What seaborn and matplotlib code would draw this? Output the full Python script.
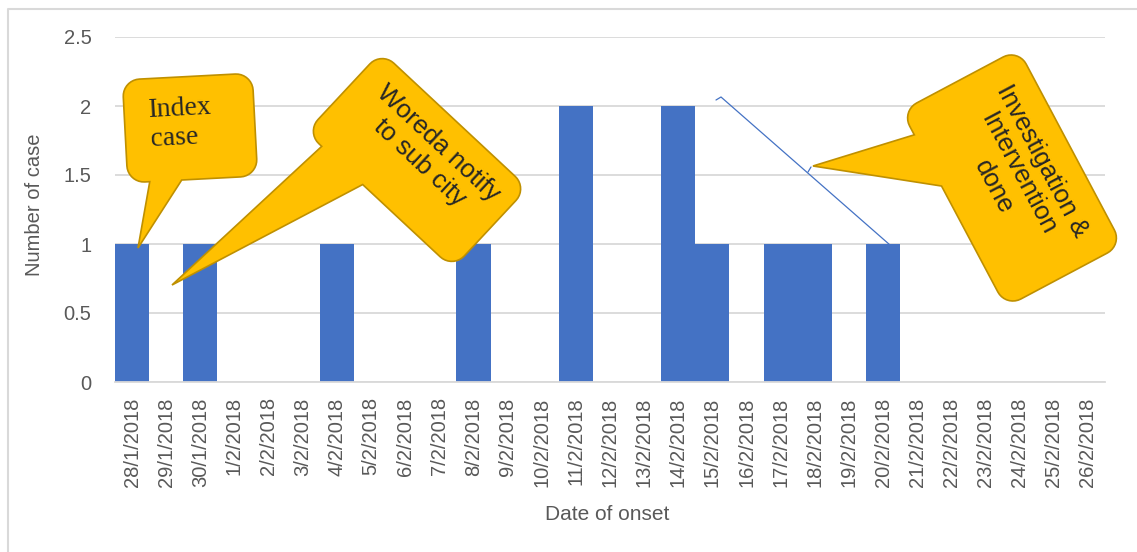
import numpy as np
import seaborn as sns
import matplotlib.pyplot as plt
from matplotlib.patches import Polygon
from matplotlib.lines import Line2D

dates = ['28/1/2018', '29/1/2018', '30/1/2018', '1/2/2018', '2/2/2018', '3/2/2018',
         '4/2/2018', '5/2/2018', '6/2/2018', '7/2/2018', '8/2/2018', '9/2/2018',
         '10/2/2018', '11/2/2018', '12/2/2018', '13/2/2018', '14/2/2018', '15/2/2018',
         '16/2/2018', '17/2/2018', '18/2/2018', '19/2/2018', '20/2/2018', '21/2/2018',
         '22/2/2018', '23/2/2018', '24/2/2018', '25/2/2018', '26/2/2018']
cases = [1, 0, 1, 0, 0, 0, 1, 0, 0, 0, 1, 0, 0, 2, 0, 0, 2, 1, 0, 1, 1, 0, 1,
         0, 0, 0, 0, 0, 0]
y_ticks = [0, 0.5, 1, 1.5, 2, 2.5]
y_tick_labels = ['0', '0.5', '1', '1.5', '2', '2.5']

W, H = 1137, 552
GREY = '#595959'
sns.set_style('white')
plt.rcParams['font.family'] = ['Liberation Sans', 'DejaVu Sans']

fig = plt.figure(figsize=(W / 100, H / 100), dpi=100)
ax = fig.add_axes([115 / W, 1 - 382 / H, 990 / W, 345 / H])

sns.barplot(x=dates, y=cases, color='#4472C4', width=1, saturation=1,
            linewidth=0, ax=ax)

ax.set_xlim(-0.5, len(dates) - 0.5)
ax.set_ylim(0, 2.5)
ax.set_yticks(y_ticks)
ax.set_yticklabels(y_tick_labels)
ax.yaxis.grid(True, color='#D9D9D9', lw=1.3)
ax.set_axisbelow(True)
for s in ['left', 'right', 'top']:
    ax.spines[s].set_visible(False)
ax.spines['bottom'].set_color('#D9D9D9')
ax.spines['bottom'].set_linewidth(1.3)
ax.tick_params(axis='both', length=0, labelcolor=GREY, labelsize=14.5)
ax.tick_params(axis='y', pad=17)
ax.tick_params(axis='x', pad=11, rotation=90)

ax.set_xlabel('Date of onset', fontsize=15, color=GREY)
ax.set_ylabel('Number of case', fontsize=14.5, color=GREY)
ax.xaxis.set_label_coords(0.497, -0.357)
ax.yaxis.set_label_coords(-0.0717, 0.513)


def fpt(x, y):
    return x / W, 1 - y / H


def callout(cx, cy, w, h, ang, tail, tip, r=17):
    a = np.deg2rad(ang)
    c, s = np.cos(a), np.sin(a)
    # tip into local coords
    dx, dy = tip[0] - cx, tip[1] - cy
    tl = (dx * c + dy * s, -dx * s + dy * c)
    pts = []

    def arc(ax_, ay_, t0, t1):
        for t in np.linspace(np.deg2rad(t0), np.deg2rad(t1), 10):
            pts.append((ax_ + r * np.cos(t), ay_ + r * np.sin(t)))

    arc(-w / 2 + r, -h / 2 + r, 180, 270)
    arc(w / 2 - r, -h / 2 + r, 270, 360)
    arc(w / 2 - r, h / 2 - r, 0, 90)
    pts += [(tail[1], h / 2), tl, (tail[0], h / 2)]
    arc(-w / 2 + r, h / 2 - r, 90, 180)
    out = [fpt(cx + x * c - y * s, cy + x * s + y * c) for x, y in pts]
    fig.add_artist(Polygon(out, closed=True, transform=fig.transFigure,
                           facecolor='#FFC000', edgecolor='#BF9000', lw=1.2,
                           zorder=5))


callout(190, 128, 130, 103, -3, (-43, -11), (138, 248))
callout(417, 160, 200, 110, 43, (-79, -23), (172, 285))
callout(1012, 178, 222, 132, 62, (-84, -26), (813, 166))

fig.text(*fpt(181, 123), 'Index\ncase', family=['Liberation Serif'], fontsize=20,
         ha='center', va='center', ma='left', rotation=3, zorder=6)
fig.text(*fpt(429, 153), 'Woreda notify\nto sub city', fontsize=18.5,
         ha='center', va='center', ma='center', rotation=-43,
         rotation_mode='anchor', linespacing=1.2, zorder=6)
fig.text(*fpt(1018, 174), 'Investigation &\nIntervention\ndone', fontsize=18.5,
         ha='center', va='center', ma='center', rotation=-62,
         rotation_mode='anchor', linespacing=1.2, zorder=6)

# stray connector line
xs, ys = zip(*[fpt(716, 100), fpt(721, 97), fpt(890, 245)])
fig.add_artist(Line2D(xs, ys, color='#4472C4', lw=0.9, transform=fig.transFigure))
xs, ys = zip(*[fpt(808, 172), fpt(811, 167)])
fig.add_artist(Line2D(xs, ys, color='#4472C4', lw=0.9, transform=fig.transFigure))

# chart border
xs, ys = zip(*[fpt(8, H), fpt(8, 9), fpt(W, 9)])
fig.add_artist(Line2D(xs, ys, color='#D9D9D9', lw=1.5, transform=fig.transFigure))

fig.savefig('out.png', dpi=100, facecolor='white')
